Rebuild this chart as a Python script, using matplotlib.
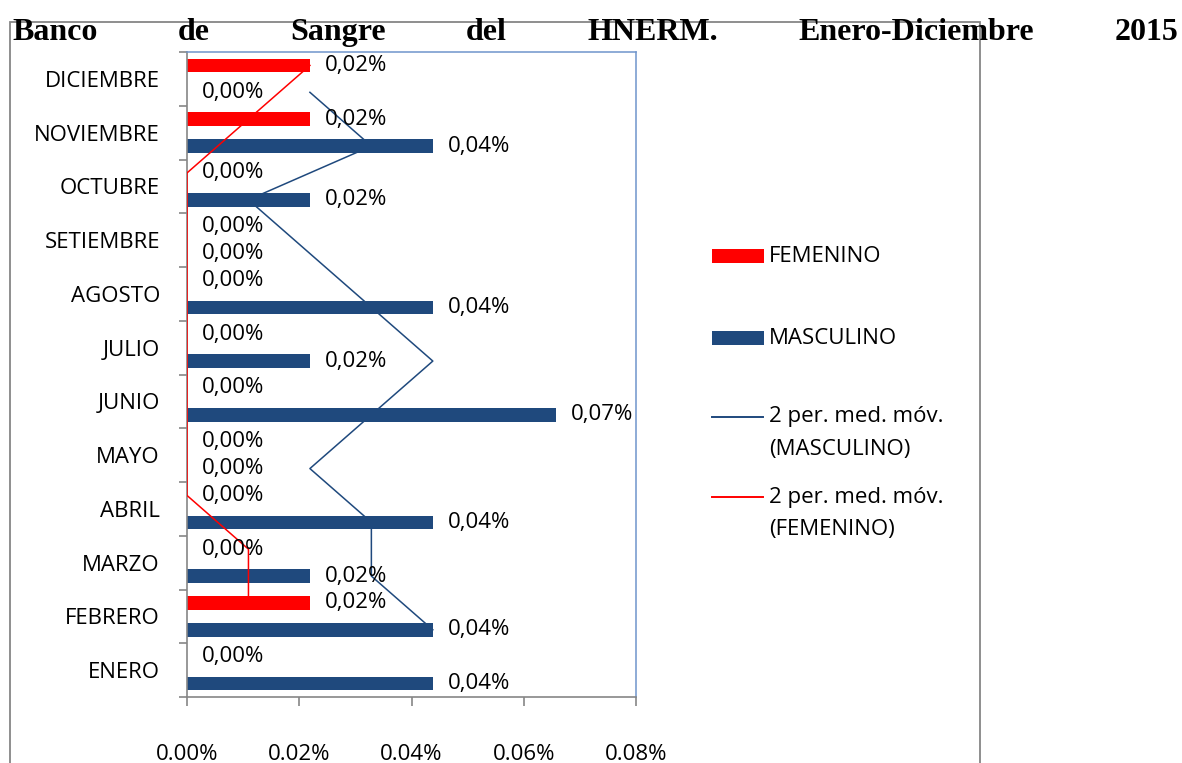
import matplotlib
matplotlib.use('Agg')
import matplotlib.pyplot as plt
from matplotlib.patches import Rectangle
from matplotlib.lines import Line2D
import numpy as np

# donantes por mes, en porcentaje
meses = ['ENERO', 'FEBRERO', 'MARZO', 'ABRIL', 'MAYO', 'JUNIO', 'JULIO',
         'AGOSTO', 'SETIEMBRE', 'OCTUBRE', 'NOVIEMBRE', 'DICIEMBRE']
masculino = [0.0438, 0.0438, 0.0219, 0.0438, 0.0, 0.0657, 0.0219,
             0.0438, 0.0, 0.0219, 0.0438, 0.0]
femenino = [0.0, 0.0219, 0.0, 0.0, 0.0, 0.0, 0.0,
            0.0, 0.0, 0.0, 0.0219, 0.0219]
xticks = [0.0, 0.02, 0.04, 0.06, 0.08]
titulo = ['Banco', 'de', 'Sangre', 'del', 'HNERM.', 'Enero-Diciembre', '2015']

AZUL = '#1F497D'
ROJO = '#FF0000'
GRIS = '#868686'
BORDE = '#6F95CB'
FUENTE = 'Open Sans'
TAM = 16

W, H = 1182, 763
fig = plt.figure(figsize=(W / 100, H / 100), dpi=100)


def fx(px):
    return px / W


def fy(py):
    return 1 - py / H


# marco exterior del grafico
fig.add_artist(Rectangle((fx(10), fy(800)), fx(980) - fx(10), fy(22) - fy(800),
                         transform=fig.transFigure, fill=False,
                         edgecolor=GRIS, lw=1.3, zorder=0))

ax = fig.add_axes([fx(187), fy(697), (636 - 187) / W, (697 - 52) / H])

y = np.arange(len(meses))
ax.barh(y - 0.25, masculino, height=0.25, color=AZUL, zorder=2)
ax.barh(y + 0.25, femenino, height=0.25, color=ROJO, zorder=2)


def media_movil(v):
    return [(v[i - 1] + v[i]) / 2 for i in range(1, len(v))]


ax.plot(media_movil(masculino), y[1:] - 0.25, color=AZUL, lw=1.1, zorder=3)
ax.plot(media_movil(femenino), y[1:] + 0.25, color=ROJO, lw=1.1, zorder=3)

# etiquetas de datos
for serie, off in ((masculino, -0.25), (femenino, 0.25)):
    for i, v in enumerate(serie):
        txt = f'{v:.2f}'.replace('.', ',') + '%'
        ax.annotate(txt, (v, i + off), xytext=(11, 0), textcoords='offset points',
                    ha='left', va='center', fontsize=TAM, family=FUENTE,
                    color='black', zorder=4)

ax.set_xlim(0, 0.08)
ax.set_ylim(-0.5, len(meses) - 0.5)
ax.set_xticks(xticks)
ax.set_xticklabels([f'{v:.2f}%' for v in xticks], fontsize=TAM, family=FUENTE)
ax.set_yticks(y)
ax.set_yticklabels(meses, fontsize=TAM, family=FUENTE)
ax.set_yticks(np.arange(-0.5, len(meses)), minor=True)
ax.tick_params(axis='y', which='major', length=0, pad=19.5)
ax.tick_params(axis='y', which='minor', length=6, width=1.2, color=GRIS, direction='out')
ax.tick_params(axis='x', which='major', length=6.5, width=1.2, color=GRIS,
               direction='out', pad=27.5)

for lado in ('left', 'bottom'):
    ax.spines[lado].set_color(GRIS)
    ax.spines[lado].set_linewidth(1.2)
for lado in ('top', 'right'):
    ax.spines[lado].set_color(BORDE)
    ax.spines[lado].set_linewidth(1.1)

# leyenda
leyenda = [('rect', ROJO, ['FEMENINO'], 256),
           ('rect', AZUL, ['MASCULINO'], 338),
           ('line', AZUL, ['2 per. med. móv.', '(MASCULINO)'], 417),
           ('line', ROJO, ['2 per. med. móv.', '(FEMENINO)'], 497)]
for tipo, color, lineas, yc in leyenda:
    if tipo == 'rect':
        fig.add_artist(Rectangle((fx(712), fy(yc + 7)), fx(764) - fx(712), 14 / H,
                                 transform=fig.transFigure, color=color, lw=0))
    else:
        fig.add_artist(Line2D([fx(712), fx(763)], [fy(yc), fy(yc)],
                              transform=fig.transFigure, color=color, lw=1.4))
    for k, linea in enumerate(lineas):
        fig.text(fx(769), fy(yc + 33 * k), linea, ha='left', va='center',
                 fontsize=TAM, family=FUENTE)

# titulo justificado
arte = [fig.text(0, fy(40), w, ha='left', va='baseline', fontsize=23,
                 family='Liberation Serif', weight='bold') for w in titulo]
fig.canvas.draw()
r = fig.canvas.get_renderer()
anchos = [t.get_window_extent(r).width for t in arte]
izq, der = 12, 1178
hueco = (der - izq - sum(anchos)) / (len(anchos) - 1)
x = izq
for t, a in zip(arte, anchos):
    t.set_x(fx(x))
    x += a + hueco

fig.savefig('out.png', dpi=100)
